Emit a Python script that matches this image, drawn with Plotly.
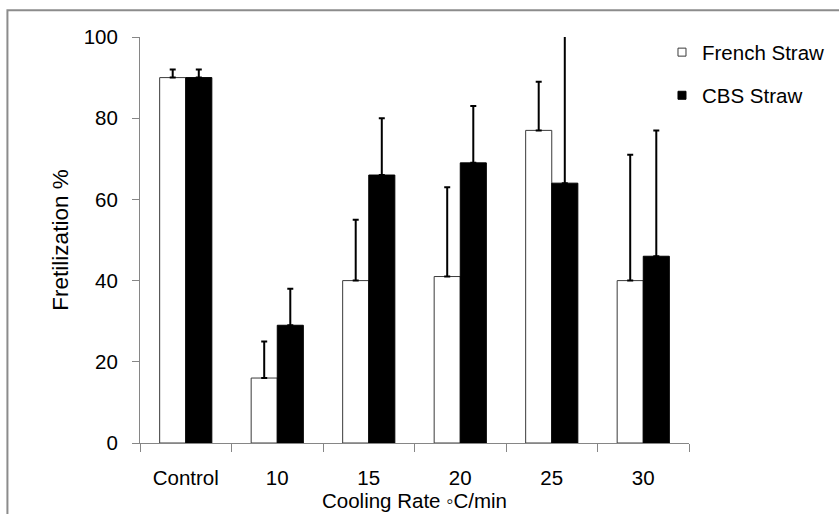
import plotly.graph_objects as go

categories = ["Control", "10", "15", "20", "25", "30"]
french = [90, 16, 40, 41, 77, 40]
french_err = [2, 9, 15, 22, 12, 31]
cbs = [90, 29, 66, 69, 64, 46]
cbs_err = [2, 9, 14, 14, 40, 31]
zeros = [0] * len(categories)

FONT = "Liberation Sans, Arial, sans-serif"
AXIS_GRAY = "#868686"

W, H = 839, 514
L, R, T, B = 140, 150.3, 36.7, 71
pw = W - L - R
ph = H - T - B

def px_x(x):
    return (x - L) / pw

def px_y(y):
    return (H - B - y) / ph

fig = go.Figure()
fig.add_trace(go.Bar(
    x=categories, y=french, name="French Straw", showlegend=False,
    marker=dict(color="white", line=dict(color="#3a3a3a", width=1)),
    error_y=dict(type="data", array=french_err, arrayminus=zeros, symmetric=False,
                 color="black", thickness=2, width=3),
))
fig.add_trace(go.Bar(
    x=categories, y=cbs, name="CBS Straw", showlegend=False,
    marker=dict(color="black", line=dict(color="black", width=1)),
    error_y=dict(type="data", array=cbs_err, arrayminus=zeros, symmetric=False,
                 color="black", thickness=2, width=3),
))
# legend entries
fig.add_trace(go.Scatter(
    x=[None], y=[None], mode="markers", name="French Straw", legendgroup="a",
    marker=dict(symbol="square", size=8, color="white", line=dict(color="#3a3a3a", width=1)),
))
fig.add_trace(go.Scatter(
    x=[None], y=[None], mode="markers", name="CBS Straw", legendgroup="b",
    marker=dict(symbol="square", size=8, color="black", line=dict(color="black", width=1)),
))

fig.update_layout(
    width=W, height=H,
    margin=dict(l=L, r=R, t=T, b=B, pad=0, autoexpand=False),
    paper_bgcolor="white", plot_bgcolor="white",
    font=dict(family=FONT, size=20.5, color="black"),
    barmode="group", bargap=0.43, bargroupgap=0,
    showlegend=True,
    legend=dict(x=px_x(661.7), y=px_y(32), xanchor="left", yanchor="top",
                font=dict(size=20.5), tracegroupgap=13.5, bgcolor="rgba(0,0,0,0)",
                borderwidth=0),
    xaxis=dict(
        type="category", showline=True, linecolor=AXIS_GRAY, linewidth=1,
        ticks="outside", tickson="boundaries", ticklen=8, tickcolor=AXIS_GRAY,
        showgrid=False, zeroline=False, ticklabelstandoff=16, automargin=False,
        title=dict(text="Cooling Rate ◦C/min", standoff=4, font=dict(size=20.5)),
    ),
    yaxis=dict(
        range=[0, 100], dtick=20, showline=True, linecolor=AXIS_GRAY, linewidth=1,
        ticks="outside", ticklen=7, tickcolor=AXIS_GRAY, showgrid=False,
        zeroline=False, ticklabelstandoff=10, automargin=False,
        title=dict(text="Fretilization %", standoff=8, font=dict(size=22.5)),
    ),
    shapes=[dict(type="rect", xref="paper", yref="paper",
                 x0=px_x(7.5), x1=px_x(900), y0=px_y(600), y1=px_y(10),
                 line=dict(color="#8c8c8c", width=2), fillcolor="rgba(0,0,0,0)",
                 layer="below")],
)

fig.write_html("out.html")
